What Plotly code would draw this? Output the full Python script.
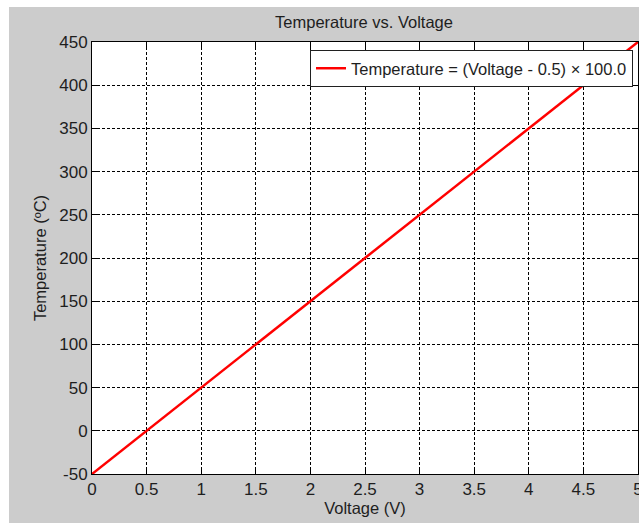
import plotly.graph_objects as go

voltage = [0, 0.5, 1, 1.5, 2, 2.5, 3, 3.5, 4, 4.5, 5]
temperature = [-50, 0, 50, 100, 150, 200, 250, 300, 350, 400, 450]
x_ticks = [0, 0.5, 1, 1.5, 2, 2.5, 3, 3.5, 4, 4.5, 5]
x_ticklabels = ["0", "0.5", "1", "1.5", "2", "2.5", "3", "3.5", "4", "4.5", "5"]
y_ticks = [-50, 0, 50, 100, 150, 200, 250, 300, 350, 400, 450]
y_ticklabels = ["-50", "0", "50", "100", "150", "200", "250", "300", "350", "400", "450"]

FONT = "Liberation Sans, Arial, sans-serif"
TXT = "#1e1e1e"

fig = go.Figure()
fig.add_trace(go.Scatter(
    x=voltage, y=temperature, mode="lines",
    line=dict(color="#ff0000", width=2.5),
    name="Temperature = (Voltage - 0.5) \u00d7 100.0",
))

W, H = 639, 523
L, R, T, B = 92, 1, 42, 49
pw = W - L - R
ph = H - T - B

axis_common = dict(
    showline=True, linecolor="black", linewidth=1, mirror="ticks",
    ticks="inside", ticklen=5, tickcolor="black",
    showgrid=True, gridcolor="black", gridwidth=1, griddash="3px,2px",
    zeroline=False, ticklabeloverflow="allow", automargin=False,
    tickfont=dict(family=FONT, size=17, color=TXT),
)

fig.update_xaxes(
    range=[0, 5], tickvals=x_ticks, ticktext=x_ticklabels,
    title=dict(text="Voltage (V)", font=dict(family=FONT, size=16.5, color=TXT), standoff=4),
    **axis_common,
)
fig.update_yaxes(
    range=[-50, 450], tickvals=y_ticks, ticktext=y_ticklabels,
    title=dict(text="Temperature (\u00baC)", font=dict(family=FONT, size=16.5, color=TXT), standoff=8),
    **axis_common,
)

fig.update_layout(
    width=W, height=H,
    margin=dict(l=L, r=R, t=T, b=B, pad=0, autoexpand=False),
    paper_bgcolor="#cccccc", plot_bgcolor="white",
    title=dict(text="Temperature vs. Voltage", x=364 / W, xanchor="center",
               y=1 - 22 / H, yanchor="middle", yref="container",
               font=dict(family=FONT, size=16.5, color=TXT)),
    showlegend=True,
    legend=dict(x=(633 - L) / pw, xanchor="right", y=1 - (50 - T) / ph, yanchor="top",
                bgcolor="white", bordercolor="#202020", borderwidth=1,
                font=dict(family=FONT, size=16.5, color=TXT),
                itemwidth=30, tracegroupgap=0),
    shapes=[
        dict(type="rect", xref="paper", yref="paper", layer="above",
             x0=-L / pw - 0.01, x1=(9 - L) / pw, y0=-B / ph - 0.01, y1=1 + T / ph + 0.01,
             fillcolor="white", line=dict(width=0)),
        dict(type="rect", xref="paper", yref="paper", layer="above",
             x0=-L / pw - 0.01, x1=1 + R / pw + 0.01, y0=1 + (T - 7) / ph, y1=1 + T / ph + 0.01,
             fillcolor="white", line=dict(width=0)),
    ],
)

fig.write_html("out.html")
